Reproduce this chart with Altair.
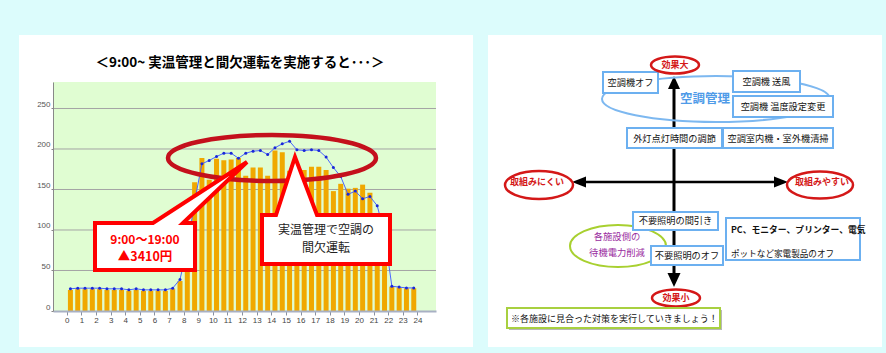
import altair as alt
import pandas as pd

JP = "Noto Sans CJK JP"

# ---------------- data (left chart) ----------------
hours = [0.25, 0.75, 1.25, 1.75, 2.25, 2.75, 3.25, 3.75, 4.25, 4.75, 5.25, 5.75,
         6.25, 6.75, 7.25, 7.75, 8.25, 8.75, 9.25, 9.75, 10.25, 10.75, 11.25, 11.75,
         12.25, 12.75, 13.25, 13.75, 14.25, 14.75, 15.25, 15.75, 16.25, 16.75, 17.25, 17.75,
         18.25, 18.75, 19.25, 19.75, 20.25, 20.75, 21.25, 21.75, 22.25, 22.75, 23.25, 23.75]
bar_values = [26, 27, 27, 27, 27, 26, 26, 26, 25, 26, 25, 25,
              25, 25, 27, 37, 95, 159, 189, 162, 188, 186, 187, 189,
              167, 177, 177, 167, 198, 196, 173, 173, 174, 178, 178, 174,
              148, 157, 151, 152, 156, 146, 121, 100, 30, 29, 28, 28]
line_values = [27.4, 28.2, 28.2, 28.2, 28.2, 27.4, 27.4, 27.4, 26.1, 27.4, 26.1, 26.1,
               26.1, 26.1, 28.2, 39, 78, 135, 181.7, 185.8, 190.7, 194.8, 194.8, 188.6,
               194.8, 197.3, 198.1, 193.2, 201.5, 206.4, 209.6, 199, 198.1, 199, 198.1, 190,
               177, 166, 144, 148, 138.5, 141.4, 130, 95, 30.6, 29.5, 28.5, 28.5]
x_ticks = list(range(0, 25))
y_ticks = [0, 50, 100, 150, 200, 250]
grid_values = [50, 100, 150, 200, 250]

title_text = "＜9:00~ 実温管理と間欠運転を実施すると･･･＞"
left_callout = ["9:00～19:00", "▲3410円"]
right_callout = ["実温管理で空調の", "間欠運転"]

# ---------------- data (right diagram) ----------------
axis_labels = ["効果大", "効果小", "取組みにくい", "取組みやすい"]
group_label = "空調管理"
box_labels = ["空調機オフ", "空調機 送風", "空調機 温度設定変更", "外灯点灯時間の調節",
              "空調室内機・室外機清掃", "不要照明の間引き", "不要照明のオフ"]
pc_lines = ["PC、モニター、プリンター、電気", "ポットなど家電製品のオフ"]
standby_lines = ["各施設側の", "待機電力削減"]
note_text = "※各施設に見合った対策を実行していきましょう！"

# ---------------- layout ----------------
OX, OY = 53, 82          # plot origin on the canvas
W, H = 383, 229          # plot area of the bar chart
ONE = alt.Data(values=[{"a": 1}])

xs = alt.Scale(domain=[-0.6, 24.93], nice=False, zero=False)
ys = alt.Scale(domain=[0, 282.7], nice=False, zero=False)
xaxis = alt.Axis(values=x_ticks, title=None, grid=False, tickSize=4,
                 tickColor="#8890a0", domainColor="#a8b0c4", domainWidth=2,
                 labelFontSize=8, labelColor="#444444", labelFont="Liberation Sans",
                 labelPadding=1, labelFlush=False, labelOverlap=False, zindex=1)
yaxis = alt.Axis(values=y_ticks, title=None, grid=False, tickSize=2,
                 tickColor="#888888", domainColor="#888888", domainWidth=1,
                 labelFontSize=8, labelColor="#555555", labelFont="Liberation Sans",
                 labelPadding=1, labelBaseline="bottom", labelOverlap=False, zindex=1)


def shp(path, fill="transparent", stroke=None, sw=1.0, join="miter"):
    kw = dict(shape=path, size=4, filled=True, fill=fill, opacity=1, strokeJoin=join)
    if stroke:
        kw.update(stroke=stroke, strokeWidth=sw)
    else:
        kw.update(strokeWidth=0)
    return alt.Chart(ONE).mark_point(**kw).encode(x=alt.value(-OX), y=alt.value(-OY))


def rect(x0, y0, x1, y1):
    return f"M {x0} {y0} L {x1} {y0} L {x1} {y1} L {x0} {y1} Z"


def ell(cx, cy, rx, ry):
    return (f"M {cx - rx} {cy} A {rx} {ry} 0 1 1 {cx + rx} {cy} "
            f"A {rx} {ry} 0 1 1 {cx - rx} {cy} Z")


def txt(s, cx, cy, size, color="#111111", weight="normal", align="center", font=JP):
    return alt.Chart(alt.Data(values=[{"t": s}])).mark_text(
        align=align, baseline="middle", fontSize=size, fontWeight=weight,
        color=color, font=font
    ).encode(x=alt.value(cx - OX), y=alt.value(cy - OY), text="t:N")


layers = []
# panels
layers.append(shp(rect(19, 35, 473, 347), fill="white"))
layers.append(shp(rect(488, 35, 882, 347), fill="white"))
layers.append(shp(rect(53, 82, 436, 311), fill="#e0fdd2"))

# ---------------- bar chart ----------------
df = pd.DataFrame({"hour": hours, "bar": bar_values, "line": line_values})
gdf = pd.DataFrame({"g": grid_values})

layers.append(
    alt.Chart(gdf).mark_rule(color="#a4a4a4", strokeWidth=1).encode(
        y=alt.Y("g:Q", scale=ys, axis=yaxis), x=alt.value(0), x2=alt.value(W))
)
layers.append(
    alt.Chart(df).mark_bar(size=5, color="#f0a800").encode(
        x=alt.X("hour:Q", scale=xs, axis=xaxis),
        y=alt.Y("bar:Q", scale=ys, axis=yaxis),
    )
)
layers.append(
    alt.Chart(df).mark_line(color="#4a66ff", strokeWidth=1).encode(
        x=alt.X("hour:Q", scale=xs, axis=xaxis), y=alt.Y("line:Q", scale=ys, axis=yaxis))
)
layers.append(
    alt.Chart(df).mark_point(filled=True, size=9, color="#1a28d8", opacity=1).encode(
        x=alt.X("hour:Q", scale=xs, axis=xaxis), y=alt.Y("line:Q", scale=ys, axis=yaxis))
)

# annotations on the chart
layers.append(shp(ell(272, 158, 104, 23), stroke="#c4101c", sw=4.5, join="round"))
layers.append(shp("M 95 223 L 153 223 L 247 162 L 183 223 L 195 223 L 195 270 L 95 270 Z",
                  fill="white", stroke="#ff0000", sw=4))
layers.append(shp("M 262 215 L 276 215 L 295 157 L 317 215 L 390 215 L 390 264 L 262 264 Z",
                  fill="white", stroke="#ff0000", sw=4))
layers.append(txt(left_callout[0], 145, 240, 12, color="#ff0000", weight="bold"))
layers.append(txt(left_callout[1], 145, 257, 12.5, color="#ff0000", weight="bold"))
layers.append(txt(right_callout[0], 326, 230, 12, color="#222222"))
layers.append(txt(right_callout[1], 326, 248, 12, color="#222222"))
layers.append(txt(title_text, 240, 63, 13.5, color="#000000", weight="bold"))

# ---------------- right diagram ----------------
# arrows
layers.append(shp(rect(672.5, 86, 675.5, 274), fill="#000000"))
layers.append(shp("M 674 76 L 668 89 L 680 89 Z", fill="#000000"))
layers.append(shp("M 674 287 L 667.5 273 L 680.5 273 Z", fill="#000000"))
layers.append(shp(rect(583, 180.7, 777, 183.3), fill="#000000"))
layers.append(shp("M 572 182 L 586 176.5 L 586 187.5 Z", fill="#000000"))
layers.append(shp("M 788 182 L 774 176.5 L 774 187.5 Z", fill="#000000"))

# group lasso
layers.append(shp(ell(716, 99, 114, 23), stroke="#7db8f0", sw=2, join="round"))
layers.append(txt(group_label, 705, 99, 12.5, color="#4f9be8", weight="bold"))

# blue boxes
boxes = [(603, 72, 658, 93), (733, 71, 800, 92), (733, 96, 833, 117), (627, 128, 722, 148),
         (723, 128, 833, 148), (633, 212, 718, 230), (651, 246, 723, 265)]
centers = [(630.5, 83), (766.5, 82), (783, 106.5), (674.5, 138.5),
           (778, 138.5), (675.5, 221), (687, 255.5)]

# standby ellipse (behind boxes)
layers.append(shp(ell(618, 246, 48, 21), fill="white", stroke="#a8d030", sw=2, join="round"))
layers.append(txt(standby_lines[0], 617, 237, 9.3, color="#9a2ca0"))
layers.append(txt(standby_lines[1], 617, 253, 9.3, color="#9a2ca0"))

for (x0, y0, x1, y1), (cx, cy), lab in zip(boxes, centers, box_labels):
    layers.append(shp(rect(x0, y0, x1, y1), fill="white", stroke="#6cb0f0", sw=2))
    layers.append(txt(lab, cx, cy, 9.2))

layers.append(shp(rect(726, 218, 860, 260), fill="white", stroke="#6cb0f0", sw=2))
layers.append(txt(pc_lines[0], 731, 230, 8.8, weight="bold", align="left"))
layers.append(txt(pc_lines[1], 731, 254, 8.6, align="left"))

# red axis labels
ells = [(675, 65, 24, 8.5), (676, 298, 24, 8.5), (539, 185, 34, 14), (820, 185, 33, 13.5)]
tpos = [(675, 65), (676, 298), (537, 182), (822, 182)]
for (cx, cy, rx, ry), (tx, ty), lab in zip(ells, tpos, axis_labels):
    layers.append(shp(ell(cx, cy, rx, ry), fill="white", stroke="#d41818", sw=2.5, join="round"))
    layers.append(txt(lab, tx, ty, 9, color="#d41818", weight="bold"))

# note box
layers.append(shp(rect(509, 310, 722, 330), fill="#b8b8b8"))
layers.append(shp(rect(507, 308, 720, 328), fill="white", stroke="#a8d040", sw=2))
layers.append(txt(note_text, 511, 318.5, 9, align="left"))

chart = alt.layer(*layers).properties(
    width=W, height=H,
    autosize=alt.AutoSizeParams(type="none"),
    padding={"left": OX, "top": OY, "right": 886 - OX - W, "bottom": 353 - OY - H},
    background="#dcfcfc",
).configure_view(strokeWidth=0)

chart.save("out.html", embed_options={"renderer": "svg", "actions": False})
